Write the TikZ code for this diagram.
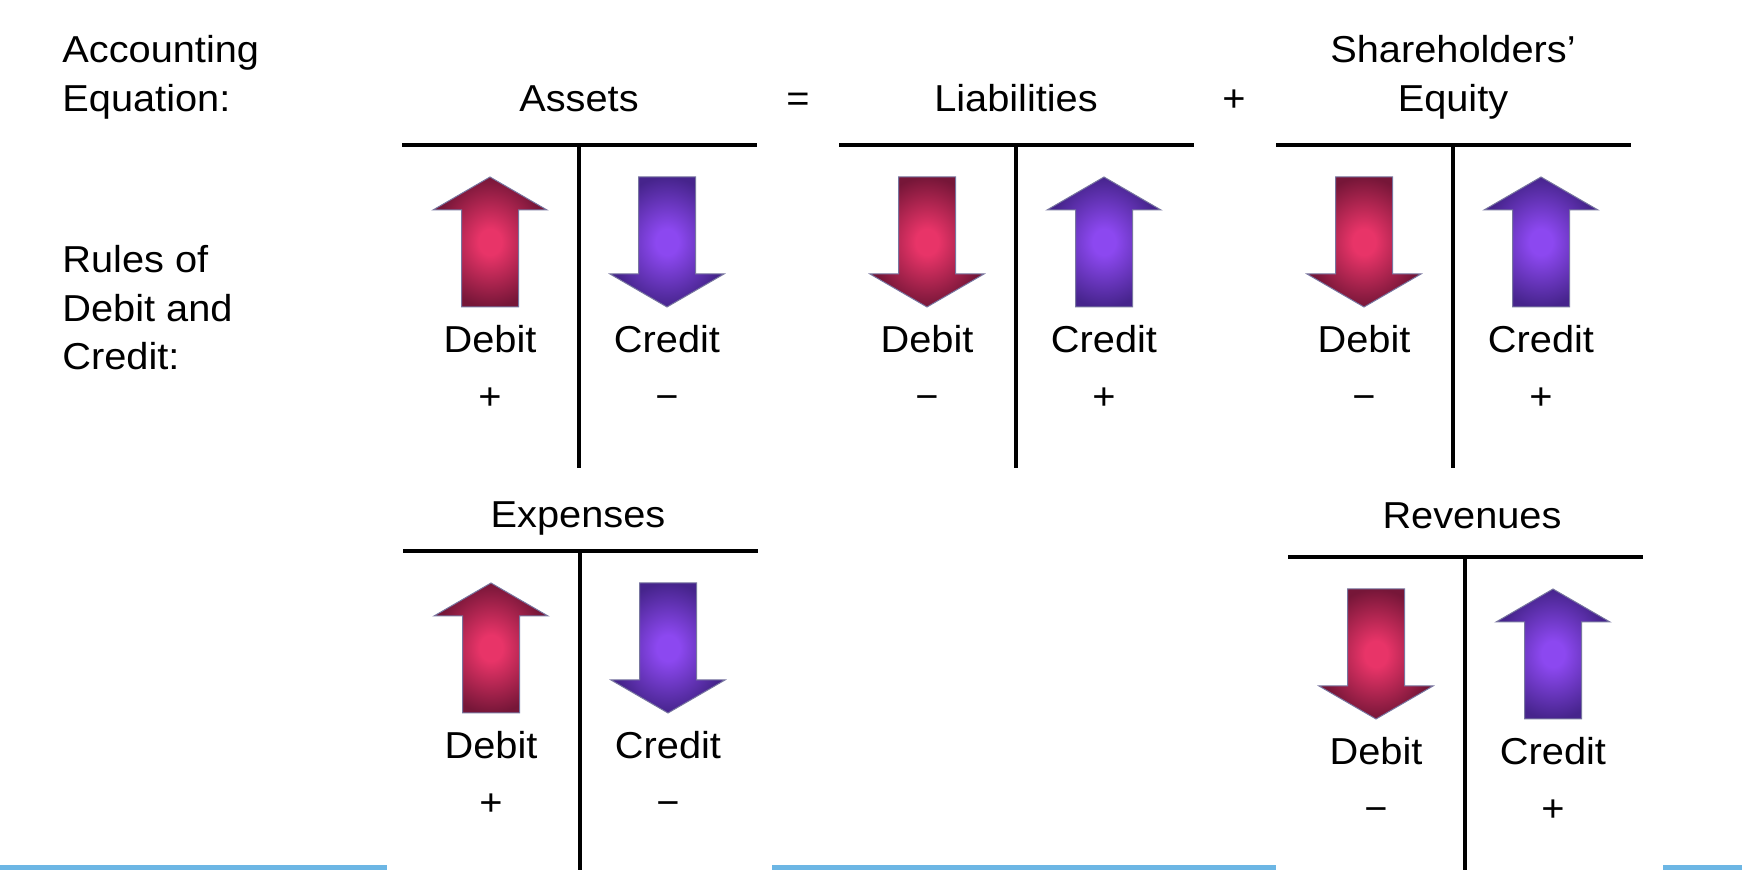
\documentclass[tikz,border=0pt]{standalone}
\usepackage{fontspec}
\setmainfont[FakeStretch=1.06]{Liberation Sans}

\definecolor{debitC}{RGB}{232,52,104}
\definecolor{debitE}{RGB}{118,22,56}
\definecolor{creditC}{RGB}{140,72,240}
\definecolor{creditE}{RGB}{70,36,140}
\definecolor{arrline}{RGB}{120,118,160}
\definecolor{bluebar}{RGB}{108,182,228}

\pgfdeclareradialshading{debitglow}{\pgfpoint{0bp}{0bp}}%
  {color(0bp)=(debitC); color(5bp)=(debitC); color(25bp)=(debitE); color(50bp)=(debitE)}
\pgfdeclareradialshading{creditglow}{\pgfpoint{0bp}{0bp}}%
  {color(0bp)=(creditC); color(5bp)=(creditC); color(25bp)=(creditE); color(50bp)=(creditE)}

% T-account: #1 id, #2 x of the stem, #3 y of the bar, #4 stem end,
% #5/#6 arrow pics for the debit/credit side, #7/#8 signs
\newcommand\tacct[8]{%
  \draw[tline] (#2-177,#3) -- (#2+178,#3);
  \draw[tline] (#2,#3) -- (#2,#4);
  \pic[shading=debitglow] at (#2-89,#3+32) {#5};
  \pic[shading=creditglow] at (#2+88,#3+32) {#6};
  \node[lbl,anchor=base] (#1-dr) at (#2-89,#3+208) {Debit};
  \node[lbl,anchor=base] (#1-cr) at (#2+88,#3+208) {Credit};
  \node[lbl,anchor=base] (#1-ds) at (#2-89,#3+265) {#7};
  \node[lbl,anchor=base] (#1-cs) at (#2+88,#3+265) {#8};
}

\begin{document}
\begin{tikzpicture}[x=0.5pt,y=-0.5pt,
  lbl/.style={font=\fontsize{18.75pt}{26pt}\selectfont, inner sep=0pt},
  tline/.style={line width=2.4pt, black},
  uparr/.pic={\shade[draw=arrline, line width=0.5pt]
      (0,0) -- (57,33) -- (28.5,33) -- (28.5,130) -- (-28.5,130)
      -- (-28.5,33) -- (-57,33) -- cycle;},
  downarr/.pic={\shade[draw=arrline, line width=0.5pt]
      (0,130) -- (57,97) -- (28.5,97) -- (28.5,0) -- (-28.5,0)
      -- (-28.5,97) -- (-57,97) -- cycle;}]
\useasboundingbox (0,0) rectangle (1742,870);

% left-hand captions
\node[lbl,anchor=base west] (cap1a) at (62,63) {Accounting};
\node[lbl,anchor=base west] (cap1b) at (62,112) {Equation:};
\node[lbl,anchor=base west] (cap2a) at (62,273) {Rules of};
\node[lbl,anchor=base west] (cap2b) at (62,322) {Debit and};
\node[lbl,anchor=base west] (cap2c) at (62,370) {Credit:};

% equation headers
\node[lbl,anchor=base] (hA) at (579,112) {Assets};
\node[lbl,anchor=base] (eq) at (798,112) {=};
\node[lbl,anchor=base] (hL) at (1016,112) {Liabilities};
\node[lbl,anchor=base] (pl) at (1234,112) {+};
\node[lbl,anchor=base] (hS1) at (1453,63) {Shareholders’};
\node[lbl,anchor=base] (hS2) at (1453,112) {Equity};
\node[lbl,anchor=base] (hX) at (578,528) {Expenses};
\node[lbl,anchor=base] (hR) at (1472,529) {Revenues};

% the five T-accounts
\tacct{as}{579}{145}{468}{uparr}{downarr}{+}{−}
\tacct{li}{1016}{145}{468}{downarr}{uparr}{−}{+}
\tacct{se}{1453}{145}{468}{downarr}{uparr}{−}{+}
\tacct{ex}{580}{551}{870}{uparr}{downarr}{+}{−}
\tacct{re}{1465}{557}{870}{downarr}{uparr}{−}{+}

% blue rule along the bottom edge
\fill[bluebar] (0,865) rectangle (387,870);
\fill[bluebar] (772,865) rectangle (1276,870);
\fill[bluebar] (1663,865) rectangle (1742,870);
\end{tikzpicture}
\end{document}
